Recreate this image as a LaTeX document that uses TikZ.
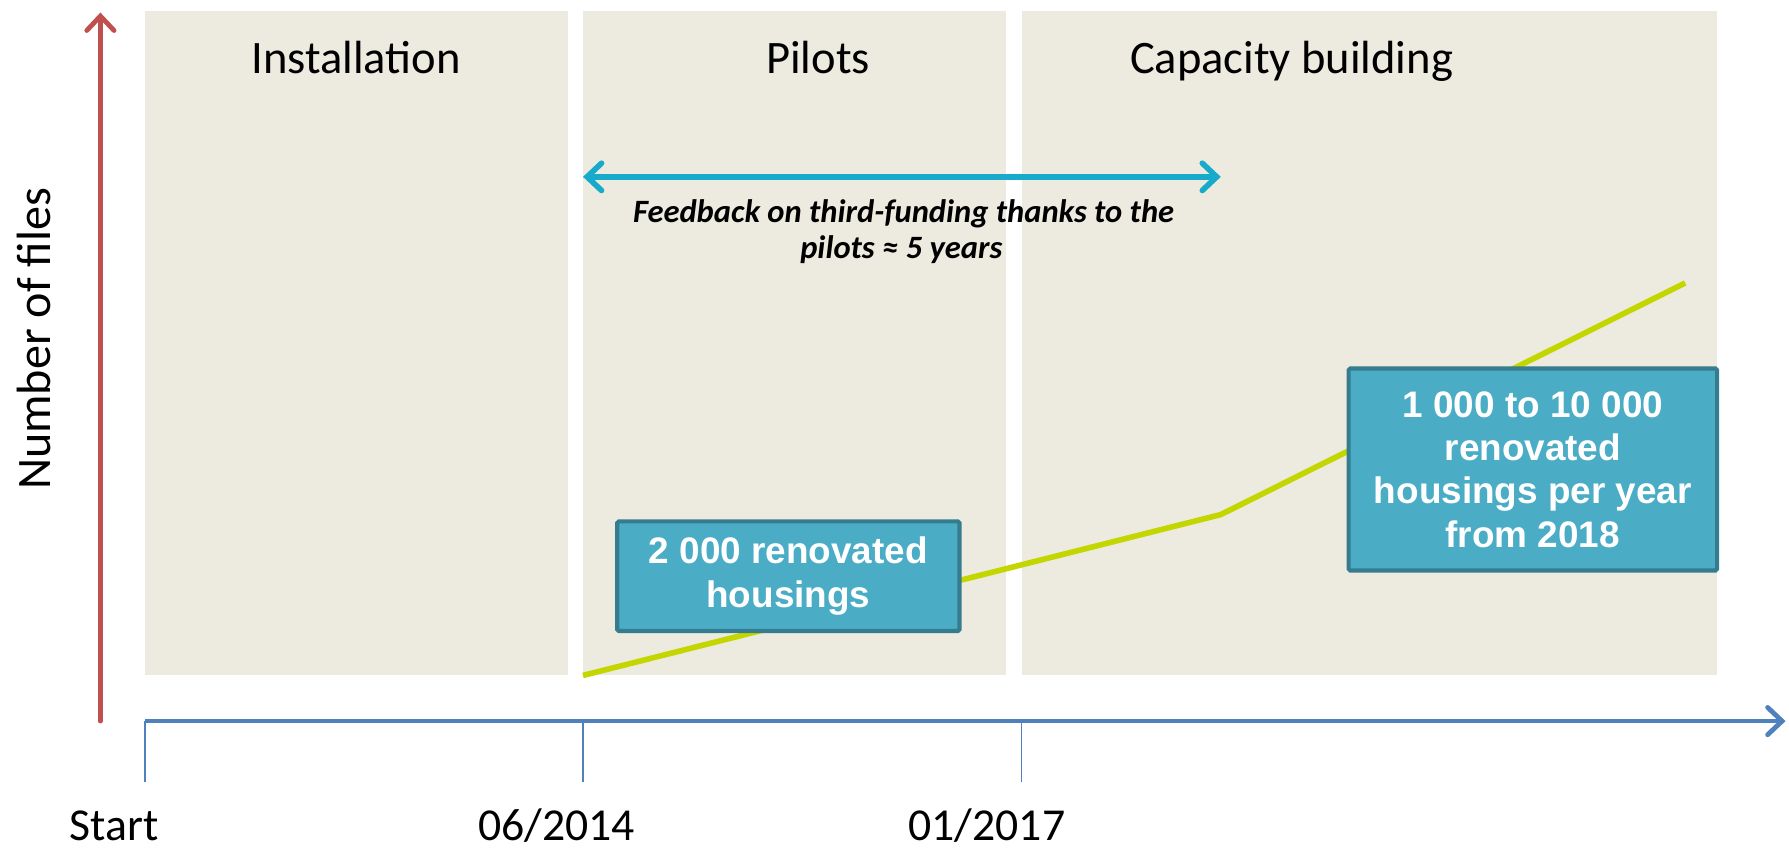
\documentclass[tikz,border=0pt]{standalone}
\usepackage{fontspec}
\setmainfont{Carlito}
\newfontfamily\arialf{Liberation Sans}
\usetikzlibrary{arrows.meta}
\definecolor{panelc}{HTML}{EDEBE0}
\definecolor{redax}{HTML}{C0504D}
\definecolor{blueax}{HTML}{4F81BD}
\definecolor{cyanar}{HTML}{17AACB}
\definecolor{greenl}{HTML}{C4D600}
\definecolor{boxfill}{HTML}{4BACC6}
\definecolor{boxedge}{HTML}{367C8F}
\tikzset{
  panel/.style={fill=panelc, draw=none},
  title/.style={font=\fontsize{29}{34}\selectfont, anchor=base},
  datelabel/.style={font=\fontsize{28.5}{34}\selectfont, anchor=base},
  tickline/.style={blueax, line width=0.8pt},
  barb/.style={line width=3pt, line cap=round, -{Straight Barb[length=9pt,width=17pt,line cap=round]}},
  infobox/.style={fill=boxfill, draw=boxedge, line width=2.6pt, rounded corners=1pt,
    text=white, font=\arialf\bfseries\fontsize{23}{27}\selectfont, align=center, inner sep=0pt},
  feedback/.style={font=\bfseries\itshape\fontsize{20.3}{24}\selectfont, anchor=base}
}
\begin{document}
\begin{tikzpicture}[x=0.025cm,y=-0.025cm]
\useasboundingbox (0,0) rectangle (1568,746.7);
% panels
\fill[panel] (127,10) rectangle (498,592);
\fill[panel] (511,10) rectangle (882,592);
\fill[panel] (896,10) rectangle (1505,592);
% titles
\node[title] (tInst) at (312,64) {Installation};
\node[title] (tPil) at (717,64) {Pilots};
\node[title] (tCap) at (1132,64) {Capacity building};
% y axis
\coordinate (yb) at (88,632);
\coordinate (yt) at (88,11);
\draw[barb, redax] (yb) -- (yt);
\node[font=\fontsize{30}{34}\selectfont, rotate=90] (ylab) at (30,297) {Number of files};
% x axis
\coordinate (xl) at (127,632);
\coordinate (xr) at (1565,632);
\draw[barb, blueax, line cap=butt] (xl) -- (xr);
\coordinate (t0a) at (127,632); \coordinate (t0b) at (127,685);
\coordinate (t1a) at (511,632); \coordinate (t1b) at (511,685);
\coordinate (t2a) at (895,632); \coordinate (t2b) at (895,685);
\draw[tickline] (t0a) -- (t0b);
\draw[tickline] (t1a) -- (t1b);
\draw[tickline] (t2a) -- (t2b);
\node[datelabel] (lStart) at (100,737) {Start};
\node[datelabel] (l2014) at (488,737) {06/2014};
\node[datelabel] (l2017) at (865,737) {01/2017};
% feedback arrow
\coordinate (fa) at (511,155);
\coordinate (fb) at (1070,155);
\draw[cyanar, line width=3.5pt, {Straight Barb[length=9pt,width=17pt,line cap=round]}-{Straight Barb[length=9pt,width=17pt,line cap=round]}] (fa) -- (fb);
\node[feedback] (fb1) at (792,195) {Feedback on third-funding thanks to the};
\node[feedback] (fb2) at (790,227) {pilots ≈ 5 years};
% green line
\coordinate (g0) at (511,592);
\coordinate (g1) at (1070,451);
\coordinate (g2) at (1477,248);
\draw[greenl, line width=3.5pt] (g0) -- (g1) -- (g2);
% boxes
\node[infobox, minimum width=300*0.025cm, minimum height=96*0.025cm] (box1) at (691,505)
  {2 000 renovated\\housings};
\node[infobox, minimum width=323*0.025cm, minimum height=177*0.025cm] (box2) at (1343.5,411.5)
  {1 000 to 10 000\\renovated\\housings per year\\from 2018};
\end{tikzpicture}
\end{document}
